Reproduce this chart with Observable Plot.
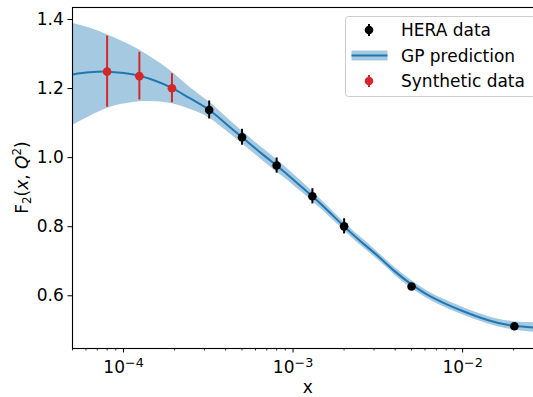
<!DOCTYPE html>
<html><head><meta charset="utf-8">
<script src="https://cdn.jsdelivr.net/npm/d3@7"></script>
<script src="https://cdn.jsdelivr.net/npm/@observablehq/plot@0.6"></script>
<style>
html,body{margin:0;padding:0;background:#fff;overflow:hidden;}
#wrap{position:relative;width:533px;height:397px;overflow:hidden;font-family:"DejaVu Sans",sans-serif;}
</style></head><body><div id="wrap"></div>
<script>
// HERA data
const heraX   = [3.2e-4, 5.0e-4, 8.0e-4, 1.3e-3, 2.0e-3, 5.0e-3, 2.02e-2];
const heraF2  = [1.138, 1.059, 0.977, 0.888, 0.801, 0.627, 0.512];
const heraErr = [0.026, 0.023, 0.022, 0.022, 0.022, 0.006, 0.004];
// Synthetic data
const synthX   = [8.0e-5, 1.24e-4, 1.93e-4];
const synthF2  = [1.249, 1.236, 1.201];
const synthErr = [0.103, 0.069, 0.042];
// GP prediction (mean and half-width of band)
const gpX    = [5e-5, 6.3e-5, 8e-5, 1e-4, 1.24e-4, 1.55e-4, 1.93e-4, 2.46e-4, 3.2e-4, 4e-4, 5e-4, 6.3e-4, 8e-4, 1e-3, 1.3e-3, 1.6e-3, 2e-3, 2.5e-3, 3.2e-3, 4e-3, 5e-3, 6.3e-3, 8e-3, 1e-2, 1.4e-2, 2e-2, 3e-2];
const gpMean = [1.241, 1.247, 1.249, 1.245, 1.237, 1.222, 1.202, 1.172, 1.138, 1.099, 1.059, 1.018, 0.977, 0.937, 0.888, 0.847, 0.801, 0.758, 0.713, 0.670, 0.633, 0.601, 0.576, 0.556, 0.530, 0.513, 0.507];
const gpHalf = [0.148, 0.128, 0.107, 0.090, 0.075, 0.060, 0.046, 0.032, 0.023, 0.020, 0.018, 0.018, 0.018, 0.016, 0.014, 0.013, 0.012, 0.012, 0.011, 0.011, 0.011, 0.011, 0.011, 0.011, 0.011, 0.012, 0.015];
// ticks
const xMajorTicks = [1e-4, 1e-3, 1e-2];
const xMajorLabels = ["10^−4", "10^−3", "10^−2"];
const xMinorTicks = [5e-5, 6e-5, 7e-5, 8e-5, 9e-5, 2e-4, 3e-4, 4e-4, 5e-4, 6e-4, 7e-4, 8e-4, 9e-4, 2e-3, 3e-3, 4e-3, 5e-3, 6e-3, 7e-3, 8e-3, 9e-3, 2e-2, 3e-2];
const yTicks = [0.6, 0.8, 1.0, 1.2, 1.4];
const xDomain = [5e-5, 3e-2];
const yDomain = [0.4474, 1.4347];

const hera = heraX.map((x, i) => ({x, y: heraF2[i], e: heraErr[i]}));
const synth = synthX.map((x, i) => ({x, y: synthF2[i], e: synthErr[i]}));
const gp = gpX.map((x, i) => ({x, m: gpMean[i], lo: gpMean[i] - gpHalf[i], hi: gpMean[i] + gpHalf[i]}));

const BLUE = "#1f77b4", RED = "#d62728";

const chart = Plot.plot({
  width: 550, height: 397,
  marginLeft: 72, marginRight: 7, marginTop: 7, marginBottom: 49,
  style: {fontFamily: "DejaVu Sans, sans-serif", fontSize: "17px", background: "transparent", color: "black", maxWidth: "none"},
  x: {type: "log", domain: xDomain},
  y: {domain: yDomain},
  marks: [
    Plot.areaY(gp, {x: "x", y1: "lo", y2: "hi", fill: BLUE, fillOpacity: 0.4, curve: "natural", clip: true}),
    Plot.lineY(gp, {x: "x", y: "m", stroke: BLUE, strokeWidth: 2, curve: "natural", clip: true}),
    Plot.ruleX(hera, {x: "x", y1: d => d.y - d.e, y2: d => d.y + d.e, stroke: "black", strokeWidth: 2}),
    Plot.dot(hera, {x: "x", y: "y", r: 4.3, fill: "black", stroke: null}),
    Plot.ruleX(synth, {x: "x", y1: d => d.y - d.e, y2: d => d.y + d.e, stroke: RED, strokeWidth: 2}),
    Plot.dot(synth, {x: "x", y: "y", r: 4.3, fill: RED, stroke: null}),
    Plot.axisX({ticks: xMinorTicks, tickSize: 2.5, tickFormat: () => "", label: null, strokeWidth: 0.8}),
    Plot.axisX({ticks: xMajorTicks, tickSize: 4.5, tickPadding: 7.5, tickFormat: d => xMajorLabels[xMajorTicks.indexOf(d)], label: null, strokeWidth: 1}),
    Plot.axisY({ticks: yTicks, tickSize: 4.5, tickPadding: 4.2, tickFormat: d3.format(".1f"), label: null, strokeWidth: 1}),
    Plot.frame({stroke: "black", strokeWidth: 1.1})
  ]
});
chart.style.maxWidth = "none";
chart.style.height = "397px";
chart.style.width = "550px";
chart.style.position = "absolute";
chart.style.left = "0px";
chart.style.top = "0px";

const wrap = document.getElementById("wrap");
wrap.appendChild(chart);
const svg = d3.select(chart);

// superscript exponents on major x tick labels
svg.selectAll("text").each(function() {
  const t = this.textContent;
  if (t.startsWith("10^")) {
    const exp = t.slice(3);
    const sel = d3.select(this);
    sel.text("10");
    sel.append("tspan").attr("dy", "-0.42em").attr("font-size", "0.75em").text(exp);
  }
});

// axis labels
svg.append("text")
  .attr("x", 307.7).attr("y", 393)
  .attr("text-anchor", "middle").attr("font-size", 17)
  .attr("font-family", "DejaVu Sans, sans-serif")
  .text("x");
const yl = svg.append("text")
  .attr("transform", "translate(28,177.5) rotate(-90)")
  .attr("text-anchor", "middle").attr("font-size", 17)
  .attr("font-family", "DejaVu Sans, sans-serif");
yl.append("tspan").text("F");
yl.append("tspan").attr("font-size", "0.7em").attr("dy", "0.25em").text("2");
yl.append("tspan").attr("dy", "-0.175em").text("(");
yl.append("tspan").attr("font-style", "italic").text("x");
yl.append("tspan").text(", ");
yl.append("tspan").attr("font-style", "italic").text("Q");
yl.append("tspan").attr("font-size", "0.7em").attr("dy", "-0.55em").text("2");
yl.append("tspan").attr("dy", "0.385em").text(")");

// legend
const legendItems = [
  {label: "HERA data", kind: "err", color: "black"},
  {label: "GP prediction", kind: "band", color: BLUE},
  {label: "Synthetic data", kind: "err", color: RED}
];
const lg = d3.select(wrap).append("svg")
  .attr("width", 192).attr("height", 82)
  .style("position", "absolute").style("left", "345px").style("top", "16px");
lg.append("rect").attr("x", 0.5).attr("y", 0.5).attr("width", 190).attr("height", 80).attr("rx", 3)
  .attr("fill", "white").attr("fill-opacity", 0.8).attr("stroke", "#cccccc").attr("stroke-width", 1);
legendItems.forEach((it, i) => {
  const cy = 14 + i * 25.5;
  const g = lg.append("g");
  if (it.kind === "err") {
    g.append("line").attr("x1", 24).attr("x2", 24).attr("y1", cy - 6).attr("y2", cy + 6).attr("stroke", it.color).attr("stroke-width", 2);
    g.append("circle").attr("cx", 24).attr("cy", cy).attr("r", 4.3).attr("fill", it.color);
  } else {
    g.append("rect").attr("x", 6.5).attr("y", cy - 5).attr("width", 36).attr("height", 10).attr("fill", it.color).attr("fill-opacity", 0.4);
    g.append("line").attr("x1", 6.5).attr("x2", 42.5).attr("y1", cy).attr("y2", cy).attr("stroke", it.color).attr("stroke-width", 2);
  }
  g.append("text").attr("x", 56).attr("y", cy).attr("dy", "0.36em")
    .attr("font-family", "DejaVu Sans, sans-serif").attr("font-size", 17).text(it.label);
});
</script>
</body></html>
